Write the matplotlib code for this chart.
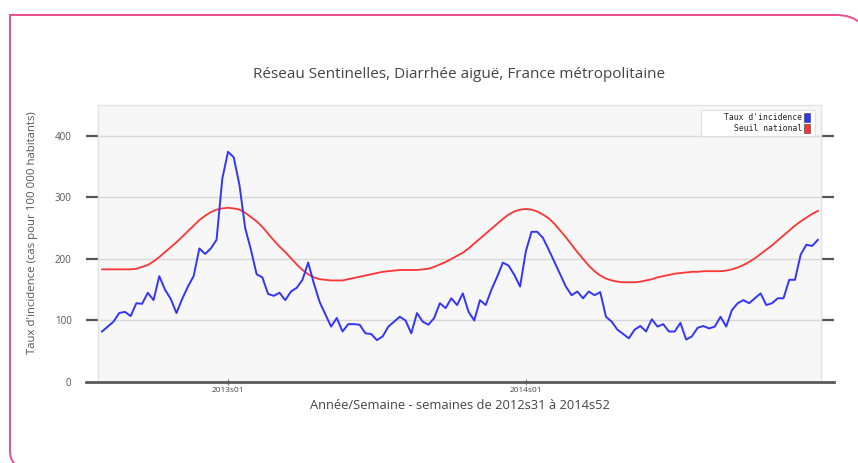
import matplotlib
matplotlib.use("Agg")
import matplotlib.pyplot as plt
from matplotlib.patches import Rectangle, PathPatch
from matplotlib.path import Path
from matplotlib.lines import Line2D

# ---------------- data ----------------
years = [2012] * 22 + [2013] * 52 + [2014] * 52
week_numbers = list(range(31, 53)) + list(range(1, 53)) + list(range(1, 53))
weeks = [f"{y}s{w:02d}" for y, w in zip(years, week_numbers)]

incidence = [
    82, 90, 98, 112, 114, 107, 128, 127, 145, 133,
    172, 150, 135, 112, 135, 155, 172, 217, 208, 217,
    231, 330, 374, 365, 320, 250, 215, 175, 170, 143,
    140, 145, 133, 147, 153, 166, 194, 160, 130, 110,
    90, 104, 82, 94, 94, 93, 79, 78, 68, 74,
    90, 98, 106, 100, 79, 112, 98, 93, 104, 128,
    120, 136, 125, 144, 114, 100, 133, 125, 150, 171,
    194, 189, 174, 155, 212, 244, 244, 234, 215, 195,
    175, 155, 141, 147, 136, 147, 141, 146, 106, 98,
    85, 78, 71, 85, 91, 82, 102, 90, 94, 82,
    82, 96, 69, 74, 88, 91, 87, 90, 106, 90,
    117, 128, 133, 128, 136, 144, 125, 128, 136, 136,
    166, 166, 207, 223, 221, 231,
]

threshold = [
    183, 183, 183, 183, 183, 183, 184, 187, 190, 196,
    203, 211, 219, 227, 236, 245, 254, 263, 270, 276,
    280, 282, 283, 282, 280, 275, 268, 261, 252, 241,
    230, 220, 211, 201, 191, 182, 175, 170, 167, 166,
    165, 165, 165, 167, 169, 171, 173, 175, 177, 179,
    180, 181, 182, 182, 182, 182, 183, 184, 187, 191,
    195, 200, 205, 210, 217, 225, 233, 241, 249, 257,
    265, 272, 277, 280, 281, 280, 277, 272, 266, 257,
    246, 235, 223, 211, 200, 189, 180, 173, 168, 165,
    163, 162, 162, 162, 163, 165, 167, 170, 172, 174,
    176, 177, 178, 179, 179, 180, 180, 180, 180, 181,
    183, 186, 190, 195, 201, 208, 215, 222, 230, 238,
    246, 254, 261, 267, 273, 278,
]

x_tick_labels = ["2013s01", "2014s01"]
y_ticks = [0, 100, 200, 300, 400]

title = "Réseau Sentinelles, Diarrhée aiguë, France métropolitaine"
xlabel = "Année/Semaine - semaines de 2012s31 à 2014s52"
ylabel = "Taux d'incidence (cas pour 100 000 habitants)"
legend_labels = ["Taux d'incidence", "Seuil national"]
series_colors = ["#3434ff", "#ff3434"]

# ---------------- figure ----------------
W, H = 858, 463
fig = plt.figure(figsize=(W / 100, H / 100), dpi=100)
fig.patch.set_facecolor("white")


def fp(px, py):
    return (px / W, 1 - py / H)


# pink frame: sharp top-left corner, rounded top-right and bottom-left
verts = [fp(26, 467), fp(10, 467), fp(10, 451), fp(10, 15), fp(836, 15),
         fp(868, 15), fp(868, 47)]
codes = [Path.MOVETO, Path.CURVE3, Path.CURVE3, Path.LINETO, Path.LINETO,
         Path.CURVE3, Path.CURVE3]
fig.patches.append(PathPatch(Path(verts, codes), transform=fig.transFigure,
                             fill=False, edgecolor="#e8508c", lw=1.4,
                             clip_on=False))

ax_l, ax_r, ax_t, ax_b = 98, 821, 105, 382
ax = fig.add_axes([ax_l / W, 1 - ax_b / H, (ax_r - ax_l) / W, (ax_b - ax_t) / H])
ax.set_facecolor("#f7f7f7")

x = list(range(len(weeks)))
ax.plot(x, threshold, color=series_colors[1], lw=1.3, zorder=3)
ax.plot(x, incidence, color=series_colors[0], lw=1.4, zorder=4)

ax.set_xlim(-0.7, len(weeks) - 0.45)
ax.set_ylim(0, 450)

for s in ["top", "left", "right"]:
    ax.spines[s].set_color("#e2e2e2")
    ax.spines[s].set_linewidth(1.0)
ax.spines["bottom"].set_visible(False)

# grid
for v in y_ticks[1:]:
    ax.axhline(v, color="#d6d6d6", lw=1.0, zorder=1)

# y ticks
ax.set_yticks(y_ticks)
ax.set_yticklabels([str(v) for v in y_ticks], fontsize=7, color="#555555",
                   family="Open Sans")
ax.tick_params(axis="y", which="both", direction="out", length=9, width=1.6,
               color="#555555", pad=10, left=True, right=True,
               labelright=False)
ax.yaxis.get_major_ticks()[0].tick1line.set_visible(False)
ax.yaxis.get_major_ticks()[0].tick2line.set_visible(False)

# bottom axis line, extended past axes
ext_l = 12 / (ax_r - ax_l)
ext_r = 13 / (ax_r - ax_l)
ax.add_line(Line2D([-ext_l, 1 + ext_r], [0, 0], transform=ax.transAxes,
                   color="#5a5a5a", lw=2.0, clip_on=False, zorder=5))

# x ticks
xt = [weeks.index(lbl) for lbl in x_tick_labels]
ax.set_xticks(xt)
ax.set_xticklabels(x_tick_labels, fontsize=6, color="#444444", family="Open Sans")
ax.tick_params(axis="x", direction="inout", length=5, width=0.8,
               color="#777777", pad=1)

ax.set_xlabel(xlabel, fontsize=9.3, color="#444444", family="Open Sans",
              labelpad=4)
fig.text(33 / W, 1 - 233 / H, ylabel, rotation=90, ha="center", va="center",
         fontsize=8.2, color="#555555", family="Open Sans")
fig.text(459 / W, 1 - 75 / H, title, ha="center", va="center",
         fontsize=11, color="#444444", family="Open Sans")

# legend (manual, right-aligned text followed by colour squares)
lg_l, lg_r, lg_t, lg_b = 701, 815, 110, 136
fig.patches.append(Rectangle((lg_l / W, 1 - lg_b / H), (lg_r - lg_l) / W,
                             (lg_b - lg_t) / H, transform=fig.transFigure,
                             facecolor="white", edgecolor="#e0e0e0", lw=0.8,
                             zorder=10))
for k, (lbl, col) in enumerate(zip(legend_labels, series_colors)):
    yy = 117.5 + k * 10.5
    fig.text(802 / W, 1 - yy / H, lbl, ha="right", va="center",
             fontsize=5.8, family="DejaVu Sans Mono", color="#222222",
             zorder=11)
    fig.patches.append(Rectangle((803.5 / W, 1 - (yy + 4.5) / H), 6 / W, 9 / H,
                                 transform=fig.transFigure, facecolor=col,
                                 edgecolor="#333333", lw=0.4, zorder=11))

fig.savefig("out.png", dpi=100)
